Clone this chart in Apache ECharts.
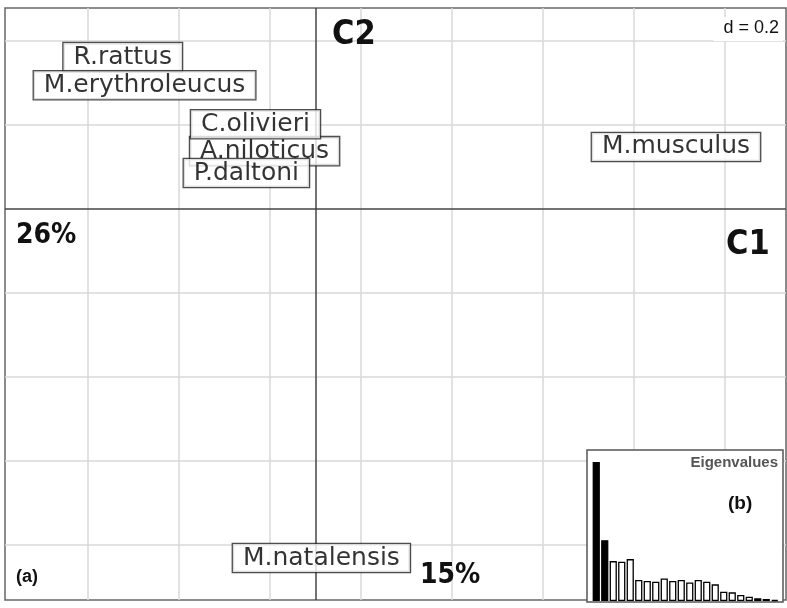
<!DOCTYPE html><html><head><meta charset="utf-8">
<script src="https://cdn.jsdelivr.net/npm/echarts@6/dist/echarts.min.js"></script>
<style>html,body{margin:0;padding:0;background:#fff}#c{width:787px;height:608px}</style></head><body><div id="c"></div>
<script>
const names = ['R.rattus','A.niloticus','M.erythroleucus','C.olivieri','P.daltoni','M.musculus','M.natalensis'];
const xs = [-0.424,-0.112,-0.376,-0.132,-0.152,0.793,0.013];
const ys = [0.362,0.138,0.295,0.202,0.086,0.148,-0.831];
const gridX = [-0.5,-0.3,-0.1,0.1,0.3,0.5,0.7,0.9];
const gridY = [0.4,0.2,-0.2,-0.4,-0.6,-0.8];
const eig = [418,183,120,118,126,63,60,58,68,60,63,56,63,58,50,28,26,18,13,8,6,3];
const chart = echarts.init(document.getElementById('c'));
const gl = {color:'#d8d8d8',type:'solid',width:1.5};
const al = {color:'#444',type:'solid',width:1.5};
chart.setOption({
  animation:false,
  grid:[{left:5,top:8,right:1,bottom:8,show:true,borderColor:'#666',borderWidth:1.5,z:0},
        {left:592,top:453,right:8,bottom:7,show:false}],
  xAxis:[{type:'value',min:-0.683,max:1.035,show:false,gridIndex:0},
         {type:'category',data:eig.map((v,i)=>i+1),show:false,gridIndex:1}],
  yAxis:[{type:'value',min:-0.931,max:0.479,show:false,gridIndex:0},
         {type:'value',min:0,max:445,show:false,gridIndex:1}],
  series:[
    {type:'scatter',xAxisIndex:0,yAxisIndex:0,symbolSize:0,silent:true,z:1,
     data:[],
     markLine:{silent:true,symbol:'none',label:{show:false},animation:false,
       data:[...gridX.map(v=>({xAxis:v,lineStyle:gl})),...gridY.map(v=>({yAxis:v,lineStyle:gl})),
             {xAxis:0,lineStyle:al},{yAxis:0,lineStyle:al}]}},
    {type:'scatter',xAxisIndex:0,yAxisIndex:0,symbolSize:0,zlevel:1,z:3,
     data:names.map((n,i)=>({value:[xs[i],ys[i]],name:n})),
     label:{show:true,position:'inside',formatter:p=>p.name,fontFamily:'DejaVu Sans',fontSize:25,color:'#000',
       backgroundColor:'#fff',borderColor:'#222',borderWidth:1.3,padding:[3,10,0,10]},
     labelLayout:{hideOverlap:false}},
    {type:'bar',xAxisIndex:1,yAxisIndex:1,zlevel:1,data:eig.map((v,i)=>({value:v,itemStyle:{color:i<2?'#000':'#fff'}})),
     barCategoryGap:'15%',itemStyle:{borderColor:'#000',borderWidth:1.3},z:6}
  ],
  graphic:[
    {type:'rect',zlevel:1,z:1,shape:{x:587,y:450,width:196,height:152},style:{fill:'#fff',stroke:'#555',lineWidth:1.5}},
    {type:'text',zlevel:1,left:332,top:18,z:10,style:{text:'C2',font:'bold 34px "Liberation Sans Narrow", "DejaVu Sans Condensed", sans-serif',fill:'#111'}},
    {type:'text',zlevel:1,left:726,top:228,z:10,style:{text:'C1',font:'bold 34px "Liberation Sans Narrow", "DejaVu Sans Condensed", sans-serif',fill:'#111'}},
    {type:'text',zlevel:1,left:16,top:222,z:10,style:{text:'26%',font:'bold 28px "Liberation Sans Narrow", "DejaVu Sans Condensed", sans-serif',fill:'#111'}},
    {type:'text',zlevel:1,left:420,top:562,z:10,style:{text:'15%',font:'bold 28px "Liberation Sans Narrow", "DejaVu Sans Condensed", sans-serif',fill:'#111'}},
    {type:'text',zlevel:1,left:16,top:568,z:10,style:{text:'(a)',font:'bold 18px "Liberation Sans", sans-serif',fill:'#111'}},
    {type:'text',zlevel:1,right:4,top:17,z:10,style:{text:'d = 0.2',font:'18px "Liberation Sans", sans-serif',fill:'#111',backgroundColor:'#fff',padding:[2,4,4,10]}},
    {type:'text',zlevel:1,right:9,top:455,z:10,style:{text:'Eigenvalues',font:'bold 15px "Liberation Sans", sans-serif',fill:'#555'}},
    {type:'text',zlevel:1,left:728,top:494,z:10,style:{text:'(b)',font:'bold 19px "Liberation Sans", sans-serif',fill:'#111'}}
  ]
});
</script></body></html>
